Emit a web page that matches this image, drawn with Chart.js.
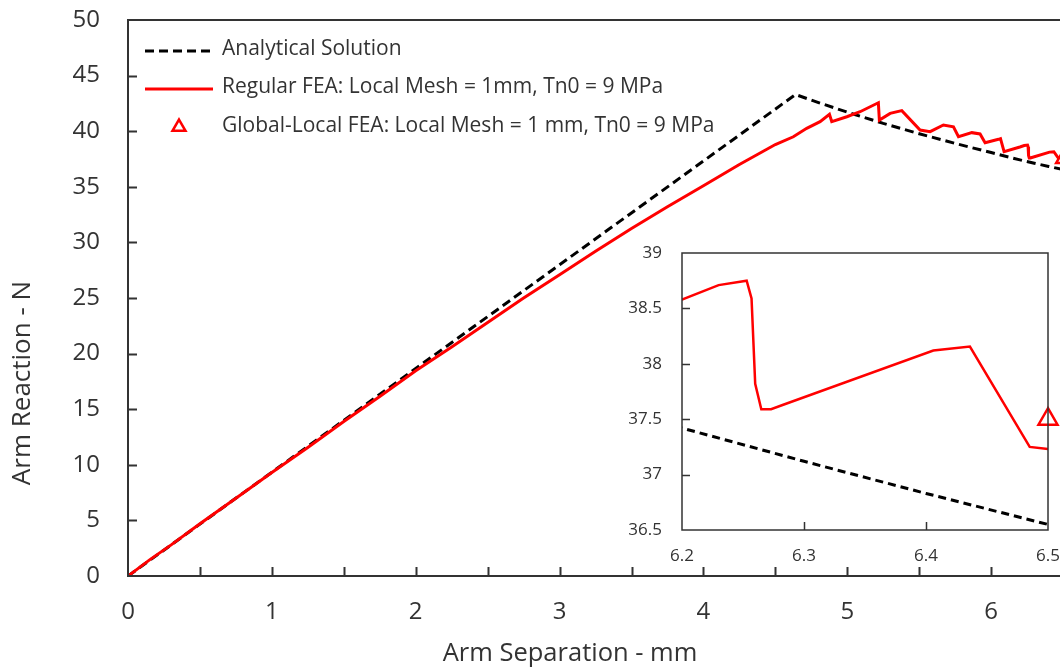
<!DOCTYPE html>
<html>
<head>
<meta charset="utf-8">
<script src="https://cdn.jsdelivr.net/npm/chart.js@4/dist/chart.umd.min.js"></script>
<style>
  html, body { margin: 0; padding: 0; background: #fff; overflow: hidden; width: 1060px; height: 670px; }
  #wrap { position: relative; width: 1060px; height: 670px; overflow: hidden; }
  #main { position: absolute; left: 0; top: 0; }
  #inset { position: absolute; left: 600px; top: 230px; }
</style>
</head>
<body>
<div id="wrap">
  <canvas id="main" width="1135" height="670"></canvas>
  <canvas id="inset" width="470" height="340"></canvas>
</div>
<script>
// Arm separation (mm) and arm reaction (N) for each curve
const analyticalSep   = [0, 1, 2, 3, 4, 4.64, 4.8, 5.0, 5.25, 5.5, 5.75, 6.0, 6.2, 6.3, 6.4, 6.5];
const analyticalForce = [0, 9.33, 18.66, 27.99, 37.32, 43.3, 42.57, 41.71, 40.7, 39.77, 38.9, 38.08, 37.42, 37.12, 36.83, 36.55];

const regularSep = [0, 0.15, 0.3, 0.5, 0.75, 1.0, 1.25, 1.5, 1.75, 2.0, 2.25, 2.5, 2.75, 3.0, 3.25, 3.5,
  3.75, 4.0, 4.25, 4.5, 4.625, 4.718, 4.811, 4.876, 4.892, 4.997, 5.089, 5.216, 5.223, 5.298, 5.379,
  5.506, 5.576, 5.668, 5.738, 5.773, 5.866, 5.923, 5.958, 6.051, 6.065, 6.09, 6.2, 6.23, 6.253, 6.257,
  6.26, 6.265, 6.273, 6.283, 6.406, 6.436, 6.485, 6.5];
const regularForce = [0, 1.45, 2.8, 4.7, 7.0, 9.3, 11.55, 13.9, 16.15, 18.45, 20.6, 22.8, 25.0, 27.1, 29.2, 31.25,
  33.2, 35.1, 37.0, 38.8, 39.5, 40.26, 40.86, 41.52, 40.86, 41.3, 41.75, 42.56, 41.0, 41.6, 41.85,
  40.1, 39.96, 40.56, 40.4, 39.5, 39.87, 39.75, 38.97, 39.27, 39.33, 38.16, 38.58, 38.71, 38.75, 38.59,
  37.82, 37.59, 37.59, 37.63, 38.12, 38.155, 37.25, 37.23];

const globalLocalSep   = [6.5];
const globalLocalForce = [37.5];

const seriesNames = [
  'Analytical Solution',
  'Regular FEA: Local Mesh = 1mm, Tn0 = 9 MPa',
  'Global-Local FEA: Local Mesh = 1 mm, Tn0 = 9 MPa'
];
const xTitle = 'Arm Separation - mm';
const yTitle = 'Arm Reaction - N';

// Axis ranges and tick steps
const mainX  = { min: 0, max: 7, step: 0.5 };
const mainY  = { min: 0, max: 50, step: 5 };
const insetX = { min: 6.2, max: 6.5, step: 0.1 };
const insetY = { min: 36.5, max: 39, step: 0.5 };

const FONT = '"Open Sans"';
const TEXT = '#333333';
const AXIS = '#333333';

const pts = (xs, ys) => xs.map((x, i) => ({ x, y: ys[i] }));
const fmt = v => String(+Number(v).toFixed(2));

function makeDatasets(s) {
  return [
    { label: seriesNames[0], data: pts(analyticalSep, analyticalForce), borderColor: '#000000',
      borderWidth: 3, borderDash: s.dash, pointRadius: 0, tension: 0, fill: false, order: 2 },
    { label: seriesNames[1], data: pts(regularSep, regularForce), borderColor: '#FF0000',
      borderWidth: s.redWidth, pointRadius: 0, tension: 0, fill: false, order: 1 },
    { label: seriesNames[2], data: pts(globalLocalSep, globalLocalForce), showLine: false, clip: false,
      pointStyle: 'triangle', pointRadius: s.tri, pointBorderWidth: s.triWidth,
      pointBorderColor: '#FF0000', pointBackgroundColor: '#FFFFFF', borderColor: '#FF0000',
      backgroundColor: '#FFFFFF', order: 0 }
  ];
}

// Keep the plot area exactly where the axis boxes put it
const noEdgePadX = s => { s.paddingLeft = 0; s.paddingRight = 0; };
const noEdgePadY = s => { s.paddingTop = 0; s.paddingBottom = 0; };

// Plot frame plus tick marks pointing into the plot area
const frameTicks = {
  id: 'frameTicks',
  beforeDraw(chart, args, o) {
    if (!o.fill) return;
    const a = chart.chartArea, ctx = chart.ctx;
    ctx.save();
    ctx.fillStyle = '#FFFFFF';
    ctx.fillRect(a.left, a.top, a.right - a.left, a.bottom - a.top);
    ctx.restore();
  },
  afterDatasetsDraw(chart, args, o) {
    const { ctx, chartArea: a, scales: { x, y } } = chart;
    ctx.save();
    ctx.strokeStyle = AXIS;
    ctx.lineWidth = o.width;
    ctx.beginPath();
    x.ticks.forEach(t => {
      if (t.value <= x.min || t.value >= x.max) return;
      const px = Math.round(x.getPixelForValue(t.value)) + 0.5;
      ctx.moveTo(px, a.bottom); ctx.lineTo(px, a.bottom - o.tick);
    });
    y.ticks.forEach(t => {
      if (t.value <= y.min || t.value >= y.max) return;
      const py = Math.round(y.getPixelForValue(t.value)) + 0.5;
      ctx.moveTo(a.left, py); ctx.lineTo(a.left + o.tick, py);
    });
    ctx.stroke();
    ctx.strokeRect(a.left, a.top, a.right - a.left, a.bottom - a.top);
    ctx.restore();
  }
};

// Legend rows: sample line / marker followed by the series name
const legendBox = {
  id: 'legendBox',
  afterDraw(chart, args, o) {
    const ctx = chart.ctx;
    ctx.save();
    chart.data.datasets.forEach((ds, i) => {
      const cy = o.rows[i];
      const cx = (o.x0 + o.x1) / 2;
      if (ds.showLine === false) {
        ctx.fillStyle = ds.pointBackgroundColor;
        ctx.strokeStyle = ds.pointBorderColor;
        ctx.lineWidth = ds.pointBorderWidth;
        Chart.helpers.drawPoint(ctx, {
          pointStyle: ds.pointStyle, radius: o.tri, borderWidth: ds.pointBorderWidth
        }, cx, cy + 1);
      } else {
        ctx.strokeStyle = ds.borderColor;
        ctx.lineWidth = ds.borderWidth;
        ctx.setLineDash(ds.borderDash || []);
        ctx.beginPath();
        ctx.moveTo(o.x0, cy + 2); ctx.lineTo(o.x1, cy + 2);
        ctx.stroke();
        ctx.setLineDash([]);
      }
      ctx.fillStyle = TEXT;
      ctx.font = o.size + 'px ' + FONT;
      ctx.textAlign = 'left';
      ctx.textBaseline = 'middle';
      ctx.fillText(ds.label, o.tx, cy);
    });
    ctx.restore();
  }
};

// Axis titles placed under / beside the plot
const axisTitles = {
  id: 'axisTitles',
  afterDraw(chart, args, o) {
    const ctx = chart.ctx;
    ctx.save();
    ctx.fillStyle = TEXT;
    ctx.textAlign = 'center';
    ctx.textBaseline = 'middle';
    ctx.font = o.xSize + 'px ' + FONT;
    ctx.fillText(xTitle, o.xAt[0], o.xAt[1]);
    ctx.font = o.ySize + 'px ' + FONT;
    ctx.translate(o.yAt[0], o.yAt[1]);
    ctx.rotate(-Math.PI / 2);
    ctx.fillText(yTitle, 0, 0);
    ctx.restore();
  }
};

Chart.defaults.font.family = FONT;
Chart.defaults.color = TEXT;

new Chart(document.getElementById('main'), {
  type: 'line',
  data: { datasets: makeDatasets({ dash: [9, 5], redWidth: 3, tri: 8, triWidth: 2.5 }) },
  options: {
    responsive: false, animation: false, devicePixelRatio: 1,
    layout: { autoPadding: false, padding: { top: 20, left: 0, right: 0, bottom: 0 } },
    plugins: {
      legend: { display: false }, tooltip: { enabled: false },
      frameTicks: { width: 2, tick: 9, fill: false },
      legendBox: { rows: [49, 87, 126], x0: 145, x1: 213, tx: 222, size: 21, tri: 7.5 },
      axisTitles: { xSize: 25.5, ySize: 26, xAt: [570, 654], yAt: [23, 383] }
    },
    scales: {
      x: {
        type: 'linear', min: mainX.min, max: mainX.max,
        afterFit(s) { s.height = 94; noEdgePadX(s); },
        grid: { display: false, drawTicks: false }, border: { display: false },
        ticks: {
          stepSize: mainX.step, autoSkip: false, maxRotation: 0, padding: 22,
          font: { size: 24 }, color: TEXT,
          callback: v => (Math.abs(v - Math.round(v)) < 1e-9 && v < mainX.max) ? fmt(v) : ''
        }
      },
      y: {
        type: 'linear', min: mainY.min, max: mainY.max,
        afterFit(s) { s.width = 128; noEdgePadY(s); },
        grid: { display: false, drawTicks: false }, border: { display: false },
        ticks: { stepSize: mainY.step, padding: 28, font: { size: 24 }, color: TEXT, callback: fmt }
      }
    }
  },
  plugins: [frameTicks, legendBox, axisTitles]
});

new Chart(document.getElementById('inset'), {
  type: 'line',
  data: { datasets: makeDatasets({ dash: [8, 5], redWidth: 2.5, tri: 11, triWidth: 2.5 }) },
  options: {
    responsive: false, animation: false, devicePixelRatio: 1,
    layout: { autoPadding: false, padding: { top: 23, left: 0, right: 22, bottom: 0 } },
    plugins: {
      legend: { display: false }, tooltip: { enabled: false },
      frameTicks: { width: 1.5, tick: 8, fill: true }
    },
    scales: {
      x: {
        type: 'linear', min: insetX.min, max: insetX.max,
        afterFit(s) { s.height = 40; noEdgePadX(s); },
        grid: { display: false, drawTicks: false }, border: { display: false },
        ticks: { stepSize: insetX.step, autoSkip: false, maxRotation: 0, padding: 16,
          font: { size: 17 }, color: TEXT, callback: fmt }
      },
      y: {
        type: 'linear', min: insetY.min, max: insetY.max,
        afterFit(s) { s.width = 82; noEdgePadY(s); },
        grid: { display: false, drawTicks: false }, border: { display: false },
        ticks: { stepSize: insetY.step, padding: 20, font: { size: 17 }, color: TEXT, callback: fmt }
      }
    }
  },
  plugins: [frameTicks]
});
</script>
</body>
</html>
